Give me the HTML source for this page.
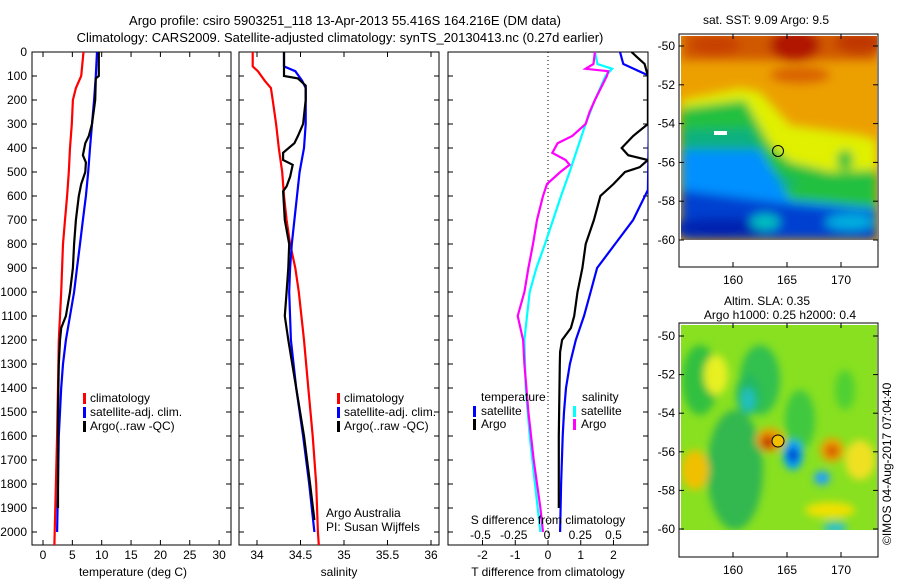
<!DOCTYPE html>
<html><head><meta charset="utf-8"><style>
body{margin:0;background:#fff;}
svg text{font-family:"Liberation Sans",sans-serif;font-size:12px;fill:#000;}
</style></head><body>
<svg id="c" width="900" height="580" xmlns="http://www.w3.org/2000/svg">
<defs>
<filter id="bl" x="-20%" y="-20%" width="140%" height="140%"><feGaussianBlur stdDeviation="5"/></filter>
<filter id="bl2" x="-20%" y="-20%" width="140%" height="140%"><feGaussianBlur stdDeviation="4"/></filter>
<clipPath id="cp1"><rect x="32" y="52" width="199" height="493"/></clipPath>
<clipPath id="cp2"><rect x="239" y="52" width="200" height="493"/></clipPath>
<clipPath id="cp3"><rect x="448" y="52" width="200" height="493"/></clipPath>
<clipPath id="cm1"><rect x="681" y="36" width="196" height="204"/></clipPath>
<clipPath id="cm2"><rect x="681" y="325" width="196" height="205"/></clipPath>
</defs>
<text x="345" y="25" text-anchor="middle" style="font-size:13px">Argo profile: csiro 5903251_118 13-Apr-2013 55.416S 164.216E (DM data)</text>
<text x="340" y="42" text-anchor="middle" style="font-size:13px">Climatology: CARS2009. Satellite-adjusted climatology: synTS_20130413.nc (0.27d earlier)</text>

<g>
<g clip-path="url(#cm1)">
<rect x="681" y="36" width="196" height="204" fill="#eca000"/>
<g filter="url(#bl)">
<rect x="681" y="30" width="196" height="30" fill="#d05800"/>
<ellipse cx="795" cy="45" rx="25" ry="16" fill="#b01800"/>
<ellipse cx="860" cy="42" rx="25" ry="12" fill="#c03800"/>
<ellipse cx="715" cy="45" rx="25" ry="10" fill="#c84000"/>
<ellipse cx="800" cy="75" rx="30" ry="8" fill="#d86000"/>
<polygon points="681,100 740,88 760,92 790,125 860,135 877,140 877,240 681,240" fill="#e0f000"/>
<polygon points="681,108 745,100 770,145 790,162 830,172 877,170 877,240 681,240" fill="#20c040"/>
<polygon points="681,130 750,128 770,168 800,185 681,200" fill="#10b080"/>
<polygon points="681,150 760,150 790,200 877,208 877,240 681,240" fill="#0090ff"/>
<polygon points="681,190 790,204 877,212 877,240 681,240" fill="#0040d0"/>
<ellipse cx="720" cy="228" rx="50" ry="10" fill="#0020b0"/>
<ellipse cx="765" cy="222" rx="15" ry="8" fill="#00c0c0"/>
<ellipse cx="850" cy="222" rx="25" ry="8" fill="#00b0e0"/>
<ellipse cx="845" cy="160" rx="8" ry="10" fill="#20c040"/>
</g>
</g>
<rect x="679" y="34" width="199" height="233" fill="none" stroke="#000"/>
<circle cx="778" cy="151" r="5.5" fill="none" stroke="#000"/>
<rect x="714" y="131" width="13" height="4" fill="#fff"/>
</g>
<text x="766" y="24" text-anchor="middle">sat. SST: 9.09 Argo: 9.5</text>

<g>
<g clip-path="url(#cm2)">
<rect x="681" y="325" width="196" height="205" fill="#88e020"/>
<g filter="url(#bl2)">
<ellipse cx="700" cy="380" rx="18" ry="35" fill="#30c040"/>
<ellipse cx="735" cy="470" rx="28" ry="60" fill="#30b850"/>
<ellipse cx="760" cy="380" rx="20" ry="35" fill="#30c050"/>
<ellipse cx="800" cy="420" rx="15" ry="30" fill="#40c840"/>
<ellipse cx="845" cy="390" rx="10" ry="20" fill="#50d030"/>
<ellipse cx="716" cy="375" rx="12" ry="20" fill="#e8f020"/>
<ellipse cx="748" cy="395" rx="12" ry="20" fill="#20b860"/>
<ellipse cx="748" cy="400" rx="7" ry="12" fill="#20c0c0"/>
<ellipse cx="770" cy="440" rx="14" ry="12" fill="#f0a000"/>
<ellipse cx="768" cy="442" rx="7" ry="7" fill="#c03000"/>
<ellipse cx="793" cy="455" rx="10" ry="15" fill="#00a0ff"/>
<ellipse cx="793" cy="455" rx="5" ry="7" fill="#0020c0"/>
<ellipse cx="822" cy="478" rx="8" ry="7" fill="#20a0ff"/>
<ellipse cx="832" cy="450" rx="12" ry="12" fill="#f0a000"/>
<ellipse cx="832" cy="451" rx="6" ry="6" fill="#d05000"/>
<ellipse cx="695" cy="470" rx="14" ry="20" fill="#f0c000"/>
<ellipse cx="830" cy="510" rx="25" ry="8" fill="#f0e000"/>
<ellipse cx="835" cy="528" rx="12" ry="6" fill="#30c0d0"/>
<ellipse cx="860" cy="460" rx="15" ry="20" fill="#f0e020"/>
</g>
</g>
<rect x="679" y="323" width="199" height="234" fill="none" stroke="#000"/>
<circle cx="778" cy="441" r="6" fill="#f0c000" stroke="#000"/>
</g>
<text x="767" y="305" text-anchor="middle">Altim. SLA: 0.35</text>
<text x="780" y="319" text-anchor="middle">Argo h1000: 0.25 h2000: 0.4</text>
<text transform="translate(891,545) rotate(-90)">©IMOS 04-Aug-2017 07:04:40</text>
<g id="g"></g>
</svg>
<script>
// depth grid (dbar) for each series
const depT = [0,100,150,200,300,400,500,600,700,800,1000,1200,1400,1600,1800,2000,2054];
const climT = [6.9,6.5,5.6,5.1,4.9,4.6,4.4,4.1,3.75,3.4,3.1,2.7,2.55,2.4,2.2,2.0,1.95];
const depTs = [0,100,200,300,400,500,600,700,800,900,1000,1100,1200,1300,1400,1500,1600,1800,2000];
const satT = [9.2,9.0,8.7,8.35,8.0,7.7,7.3,6.8,6.3,5.8,5.3,4.6,3.9,3.4,3.1,2.9,2.7,2.55,2.4];
const depTa = [0,100,110,200,300,350,380,430,460,500,550,600,700,800,900,1000,1100,1150,1200,1300,1500,1900];
const argoT = [9.5,9.5,9.0,8.9,8.35,7.8,7.2,6.8,7.3,7.2,6.5,6.1,5.6,5.3,5.1,4.6,3.9,3.1,2.9,2.7,2.55,2.55];

const depS = [0,60,80,120,150,200,300,400,500,600,700,800,900,1000,1200,1400,1600,1800,2000,2054];
const climS = [33.95,33.95,34.01,34.09,34.16,34.18,34.22,34.25,34.29,34.31,34.34,34.38,34.44,34.48,34.54,34.59,34.64,34.68,34.70,34.71];
const depSs = [0,60,80,120,150,300,400,500,600,700,800,900,1000,1200,1400,1600,1800,2000];
const satS = [34.31,34.31,34.44,34.52,34.56,34.56,34.54,34.49,34.46,34.43,34.40,34.38,34.37,34.39,34.45,34.53,34.60,34.66];
const depSa = [0,100,110,140,200,300,350,380,420,450,470,520,560,580,700,800,900,1000,1100,1200,1400,1600,1800,1950];
const argoS = [34.31,34.31,34.47,34.56,34.56,34.53,34.47,34.43,34.30,34.30,34.41,34.38,34.34,34.30,34.32,34.37,34.36,34.34,34.32,34.36,34.45,34.54,34.61,34.66];

const depD = [0,50,100,575,700,800,900,1000,1100,1200,1300,1400,1500,1600,1800,2000];
const satDT = [2.2,2.3,3.1,3.05,2.6,2.05,1.5,1.3,1.1,0.85,0.67,0.55,0.49,0.45,0.4,0.37];
const depDa = [0,50,100,300,350,400,430,450,480,500,550,600,700,800,900,1000,1100,1150,1200,1250,1300,1600,1900];
const argoDT = [2.55,2.95,3.05,3.05,2.6,2.25,2.45,3.05,2.8,2.35,2.0,1.6,1.4,1.15,1.05,0.9,0.8,0.7,0.43,0.37,0.36,0.33,0.33];
const depDs = [0,50,70,100,200,300,400,500,600,700,800,900,1000,1100,1200,1400,1600,1800,2000];
const satDS = [0.36,0.38,0.49,0.44,0.36,0.29,0.23,0.17,0.105,0.045,-0.015,-0.08,-0.13,-0.15,-0.17,-0.16,-0.13,-0.09,-0.05];
const depDm = [0,50,70,80,100,200,250,300,350,380,420,450,470,500,550,600,700,800,900,1000,1100,1150,1200,1300,1500,1700,1900,2000];
const argoDS = [0.36,0.35,0.29,0.46,0.45,0.36,0.32,0.29,0.19,0.08,0.04,0.14,0.17,0.10,0.0,-0.03,-0.075,-0.105,-0.14,-0.17,-0.22,-0.20,-0.18,-0.17,-0.14,-0.10,-0.05,-0.03];

const tempTicks = [0,5,10,15,20,25,30];
const salTicks = [34,34.5,35,35.5,36];
const salTickLabels = ['34','34.5','35','35.5','36'];
const dTTicks = [-2,-1,0,1,2];
const dSTicks = [-0.5,-0.25,0,0.25,0.5];
const dSTickLabels = ['-0.5','-0.25','0','0.25','0.5'];
const depthTicks = [0,100,200,300,400,500,600,700,800,900,1000,1100,1200,1300,1400,1500,1600,1700,1800,1900,2000];
const lonTicks = [160,165,170];
const latTicks = [-50,-52,-54,-56,-58,-60];

const NS='http://www.w3.org/2000/svg', G=document.getElementById('g');
function mk(t,a,p){const e=document.createElementNS(NS,t);for(const k in a)e.setAttribute(k,a[k]);(p||G).appendChild(e);return e;}
const yD = d => 52 + d*0.24;
const xT = v => 43 + v*5.87;
const xS = v => 257 + (v-34)*87;
const xDT = v => 548 + v*32.75;
const xDS = v => 547 + v*133;

function stairs(deps, vals, fx){ let s=''; for(let i=0;i<deps.length;i++){ s += (i?'L':'M') + fx(vals[i]).toFixed(1)+','+yD(deps[i]).toFixed(1); } return s; }
function line(deps, vals, fx, col, clip, name){
  const p = mk('path',{d:stairs(deps,vals,fx),fill:'none',stroke:col,'stroke-width':2.2,'clip-path':'url(#'+clip+')'});
  
  
}
function frame(x0,x1,name){
  const r = mk('rect',{x:x0,y:52,width:x1-x0,height:493,fill:'none',stroke:'#000'});
  
  
  depthTicks.forEach(d=>{ mk('line',{x1:x0,x2:x0+5,y1:yD(d),y2:yD(d),stroke:'#000'}); mk('line',{x1:x1-5,x2:x1,y1:yD(d),y2:yD(d),stroke:'#000'}); });
}
function xticks(ticks, labels, fx, y, withTop){
  ticks.forEach((v,i)=>{ const x=fx(v);
    mk('line',{x1:x,x2:x,y1:540,y2:545,stroke:'#000'});
    if(withTop) mk('line',{x1:x,x2:x,y1:52,y2:57,stroke:'#000'});
    const t=mk('text',{x:x,y:y,'text-anchor':'middle'}); t.textContent=labels[i];
    
    
  });
}
function txt(x,y,s,name,anchor){ const t=mk('text',{x:x,y:y,'text-anchor':anchor||'start'}); t.textContent=s;
  
   return t;}
function leg(x,y,col){ const r=mk('rect',{x:x,y:y-9,width:3,height:11,fill:col});   }

// panel 1
frame(32,231,'temperature-panel');
depthTicks.forEach(d=>txt(27,yD(d)+4,String(d),'y-tick-label','end'));
xticks(tempTicks, tempTicks.map(String), xT, 559, true);
txt(133,576,'temperature (deg C)','x-axis-title-temperature','middle');
line(depT,climT,xT,'#f00','cp1','temp-climatology-line');
line(depTs,satT,xT,'#00f','cp1','temp-satellite-line');
line(depTa,argoT,xT,'#000','cp1','temp-argo-line');
leg(83,402,'#f00'); txt(90,402,'climatology','legend-climatology');
leg(83,416,'#00f'); txt(90,416,'satellite-adj. clim.','legend-satellite');
leg(83,430,'#000'); txt(90,430,'Argo(..raw -QC)','legend-argo');

// panel 2
frame(239,439,'salinity-panel');
xticks(salTicks, salTickLabels, xS, 559, true);
txt(339,576,'salinity','x-axis-title-salinity','middle');
line(depS,climS,xS,'#f00','cp2','sal-climatology-line');
line(depSs,satS,xS,'#00f','cp2','sal-satellite-line');
line(depSa,argoS,xS,'#000','cp2','sal-argo-line');
leg(337,402,'#f00'); txt(344,402,'climatology','legend-climatology-2');
leg(337,416,'#00f'); txt(344,416,'satellite-adj. clim.','legend-satellite-2');
leg(337,430,'#000'); txt(344,430,'Argo(..raw -QC)','legend-argo-2');
txt(326,517,'Argo Australia','credit-argo-australia');
txt(326,531,'PI: Susan Wijffels','credit-pi');

// panel 3
frame(448,648,'difference-panel');
mk('line',{x1:548,x2:548,y1:52,y2:545,stroke:'#000','stroke-dasharray':'1,3'});
xticks(dTTicks, dTTicks.map(String), xDT, 559, false);
dSTicks.forEach((v,i)=>{ txt(xDS(v),539,dSTickLabels[i],'s-tick-label','middle'); });
line(depD,satDT,xDT,'#00f','cp3','dT-satellite-line');
line(depDa,argoDT,xDT,'#000','cp3','dT-argo-line');
line(depDs,satDS,xDS,'#0ff','cp3','dS-satellite-line');
line(depDm,argoDS,xDS,'#f0f','cp3','dS-argo-line');
txt(548,524,'S difference from climatology','s-axis-title','middle');
txt(548,576,'T difference from climatology','t-axis-title','middle');
txt(481,401,'temperature','legend-temperature-heading');
leg(473,415,'#00f'); txt(481,415,'satellite','legend-t-satellite');
leg(473,428,'#000'); txt(481,428,'Argo','legend-t-argo');
txt(582,401,'salinity','legend-salinity-heading');
leg(573,415,'#0ff'); txt(581,415,'satellite','legend-s-satellite');
leg(573,428,'#f0f'); txt(581,428,'Argo','legend-s-argo');

// map axes
const xLon = v => 733 + (v-160)*10.8;
[[46,240,267,34],[336,529,557,323]].forEach(([ya,yb,bot,top])=>{
  const yL = v => ya + (-50 - v)*(yb-ya)/10;
  latTicks.forEach(v=>{ const y=yL(v); mk('line',{x1:679,x2:684,y1:y,y2:y,stroke:'#000'}); mk('line',{x1:873,x2:878,y1:y,y2:y,stroke:'#000'}); txt(675,y+4,String(v),'map-lat-label','end'); });
  lonTicks.forEach(v=>{ const x=xLon(v); mk('line',{x1:x,x2:x,y1:bot-5,y2:bot,stroke:'#000'}); mk('line',{x1:x,x2:x,y1:top,y2:top+5,stroke:'#000'}); txt(x,bot+17,String(v),'map-lon-label','middle'); });
});
</script>
</body></html>
